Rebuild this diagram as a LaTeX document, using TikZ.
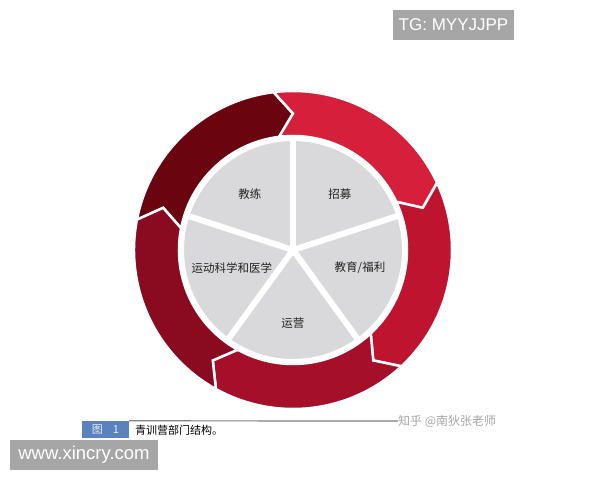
\documentclass[tikz,border=0pt]{standalone}
\usepackage{fontspec}
\setmainfont{Liberation Sans}
\newfontfamily\cjk{Noto Sans CJK SC}
\definecolor{segA}{HTML}{6A0510}
\definecolor{segB}{HTML}{D61F3B}
\definecolor{segC}{HTML}{BE1430}
\definecolor{segD}{HTML}{A50F29}
\definecolor{segE}{HTML}{8A0B20}
\definecolor{piegray}{HTML}{D9D9DB}
\definecolor{wmgray}{HTML}{A6A6A6}
\definecolor{capblue}{HTML}{5A82BE}
\definecolor{labtext}{HTML}{222222}
\tikzset{
  seg/.style={draw=white, line width=2.5pt, line join=miter},
  sepline/.style={white, line width=6pt},
  lab/.style={font=\cjk\fontsize{11.5}{13}\selectfont, text=labtext, inner sep=0pt},
  wmbox/.style={fill=wmgray, text=white, inner sep=0pt, font=\fontsize{17}{19}\selectfont},
}
\begin{document}
\begin{tikzpicture}[x=1pt,y=1pt]
\useasboundingbox (-293,-230) rectangle (307,250);
\fill[white] (-293,-230) rectangle (307,250);
\def\ro{159}\def\ri{114}\def\rm{136.5}\def\dl{7}
% ring of five arrows
\foreach \a/\c in {169/segA, 97/segB, 25/segC, -47/segD, -119/segE} {
  \filldraw[seg, fill=\c] (\a:\ro) arc[start angle=\a, end angle={\a-72}, radius=\ro]
    -- ({\a-72-\dl}:\rm) -- ({\a-72}:\ri)
    arc[start angle={\a-72}, end angle=\a, radius=\ri]
    -- ({\a-\dl}:\rm) -- cycle;
}
% pie
\fill[piegray] (0,0) circle (110);
\draw[white, line width=2pt] (0,0) circle (110);
\coordinate (c) at (0,0);
\foreach \a [count=\i] in {90,18,-54,-126,162} {
  \coordinate (s\i) at (\a:112);
  \draw[sepline] (c) -- (s\i);
}
% labels
\node[lab] (l1) at (-43,56) {教练};
\node[lab] (l2) at (47,56) {招募};
\node[lab] (l3) at (67,-18) {教育/福利};
\node[lab] (l4) at (0,-73) {运营};
\node[lab] (l5) at (-61,-18) {运动科学和医学};
% caption
\node[fill=capblue, minimum width=47pt, minimum height=17pt, inner sep=0pt,
      text=white!85!capblue, font=\fontsize{11}{12}\selectfont\cjk] (fig) at (-187.5,-179.5) {图\hspace{10pt}1};
\coordinate (lineend) at (105,-171);
\draw[gray, line width=1.2pt] (fig.north east) -- (lineend);
\node[anchor=west, inner sep=0pt, font=\cjk\fontsize{11}{12}\selectfont] (cap) at (-158,-180) {青训营部门结构。};
\node[anchor=west, inner sep=0pt, text=gray!70, font=\cjk\fontsize{12}{14}\selectfont] (zh) at (lineend) {知乎 @南狄张老师};
% watermarks
\node[wmbox, minimum width=121pt, minimum height=30pt] (tg) at (160.5,225) {TG: MYYJJPP};
\node[wmbox, minimum width=148pt, minimum height=30pt, font=\fontsize{18.5}{20}\selectfont] (www) at (-209,-205) {www.xincry.com};
\end{tikzpicture}
\end{document}
